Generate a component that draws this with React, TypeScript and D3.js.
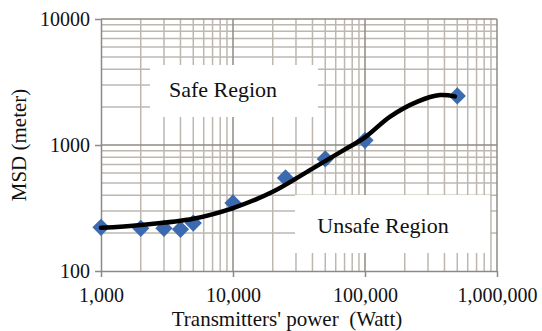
import React, { useEffect, useRef } from 'react'
import * as d3 from 'd3'

// measured points (power in W, MSD in m)
const powerValues = [1000, 2000, 3000, 4000, 5000, 10000, 25000, 50000, 100000, 500000]
const msdValues = [222, 218, 218, 214, 240, 347, 548, 775, 1090, 2450]

// smoothed trend curve
const curvePower = [1000, 2000, 5000, 10000, 20000, 40000, 70000, 100000, 155000, 250000, 370000, 480000]
const curveMsd = [220, 232, 260, 316, 425, 650, 920, 1150, 1680, 2210, 2490, 2430]

const xTickValues = [1000, 10000, 100000, 1000000]
const yTickValues = [100, 1000, 10000]

const App: React.FC = () => {
  const ref = useRef<SVGSVGElement>(null)

  useEffect(() => {
    const svg = d3.select(ref.current)
    svg.selectAll('*').remove()

    const W = 542
    const H = 331
    const left = 101
    const right = 497
    const top = 19
    const bottom = 271
    const font = 'Liberation Serif, Times New Roman, serif'

    const x = d3.scaleLog().domain([1000, 1000000]).range([left, right])
    const y = d3.scaleLog().domain([100, 10000]).range([bottom, top])

    svg.attr('width', W).attr('height', H).attr('viewBox', `0 0 ${W} ${H}`)
    svg.append('rect').attr('width', W).attr('height', H).attr('fill', '#fff')

    /* grid */
    const minorX: number[] = []
    const minorY: number[] = []
    for (let d = 1000; d < 1000000; d *= 10) {
      for (let k = 2; k <= 9; k++) minorX.push(d * k)
    }
    for (let d = 100; d < 10000; d *= 10) {
      for (let k = 2; k <= 9; k++) minorY.push(d * k)
    }

    const grid = svg.append('g')
    grid.selectAll('.vminor').data(minorX).enter().append('line')
      .attr('x1', d => x(d)).attr('x2', d => x(d))
      .attr('y1', top).attr('y2', bottom)
      .attr('stroke', '#bdb7b0').attr('stroke-width', 1.5)
    grid.selectAll('.hminor').data(minorY).enter().append('line')
      .attr('x1', left).attr('x2', right)
      .attr('y1', d => y(d)).attr('y2', d => y(d))
      .attr('stroke', '#bdb7b0').attr('stroke-width', 1.5)
    grid.selectAll('.vmajor').data(xTickValues.slice(1)).enter().append('line')
      .attr('x1', d => x(d)).attr('x2', d => x(d))
      .attr('y1', top).attr('y2', bottom)
      .attr('stroke', '#8f8a84').attr('stroke-width', 1.5)
    grid.selectAll('.hmajor').data(yTickValues.slice(1)).enter().append('line')
      .attr('x1', left).attr('x2', right)
      .attr('y1', d => y(d)).attr('y2', d => y(d))
      .attr('stroke', '#8f8a84').attr('stroke-width', 1.5)

    /* region labels in white boxes */
    const boxes = [
      { label: 'Safe Region', x0: 150, y0: 65, x1: 318, y1: 117, tx: 223, ty: 97 },
      { label: 'Unsafe Region', x0: 295, y0: 195, x1: 490, y1: 253, tx: 383, ty: 233 },
    ]
    boxes.forEach(b => {
      svg.append('rect')
        .attr('x', b.x0).attr('y', b.y0)
        .attr('width', b.x1 - b.x0).attr('height', b.y1 - b.y0)
        .attr('fill', '#fff')
      svg.append('text')
        .attr('x', b.tx)
        .attr('y', b.ty)
        .attr('text-anchor', 'middle')
        .attr('font-family', font).attr('font-size', 22)
        .attr('fill', '#111')
        .text(b.label)
    })

    /* axes */
    const xAxis = d3.axisBottom(x).tickValues(xTickValues)
      .tickFormat(d => d3.format(',')(d as number)).tickSize(6).tickSizeOuter(0)
    const yAxis = d3.axisLeft(y).tickValues(yTickValues)
      .tickFormat(d => String(d)).tickSize(6).tickSizeOuter(0)

    const gx = svg.append('g').attr('transform', `translate(0,${bottom})`).call(xAxis)
    const gy = svg.append('g').attr('transform', `translate(${left},0)`).call(yAxis)
    ;[gx, gy].forEach(g => {
      g.select('.domain').attr('stroke', '#8a8a8a').attr('stroke-width', 1.5)
      g.selectAll('.tick line').attr('stroke', '#8a8a8a').attr('stroke-width', 1.5)
      g.selectAll('.tick text')
        .attr('font-family', font).attr('font-size', 20).attr('fill', '#111')
    })
    gx.selectAll('.tick text').attr('dy', '1.1em')
    gy.selectAll('.tick text').attr('dx', '-0.1em')

    /* data diamonds */
    const diamond = d3.symbol().type(d3.symbolDiamond2).size(190)
    svg.append('g').selectAll('path').data(powerValues).enter().append('path')
      .attr('d', diamond)
      .attr('transform', (d, i) => `translate(${x(d)},${y(msdValues[i])})`)
      .attr('fill', '#3c6ab0')

    /* trend curve */
    const line = d3.line<number>()
      .x(d => x(d))
      .y((d, i) => y(curveMsd[i]))
      .curve(d3.curveCatmullRom.alpha(0.5))
    svg.append('path')
      .attr('d', line(curvePower))
      .attr('fill', 'none')
      .attr('stroke', '#000')
      .attr('stroke-width', 4.5)
      .attr('stroke-linecap', 'round')

    /* titles */
    svg.append('text')
      .attr('x', 287).attr('y', 326)
      .attr('text-anchor', 'middle')
      .attr('font-family', font).attr('font-size', 21).attr('fill', '#111')
      .style('white-space', 'pre')
      .text("Transmitters' power  (Watt)")
    svg.append('text')
      .attr('transform', 'translate(26,145) rotate(-90)')
      .attr('text-anchor', 'middle')
      .attr('font-family', font).attr('font-size', 21).attr('fill', '#111')
      .text('MSD (meter)')
  }, [])

  return <svg ref={ref} style={{ position: 'absolute', left: 0, top: 0 }} />
}

export default App
